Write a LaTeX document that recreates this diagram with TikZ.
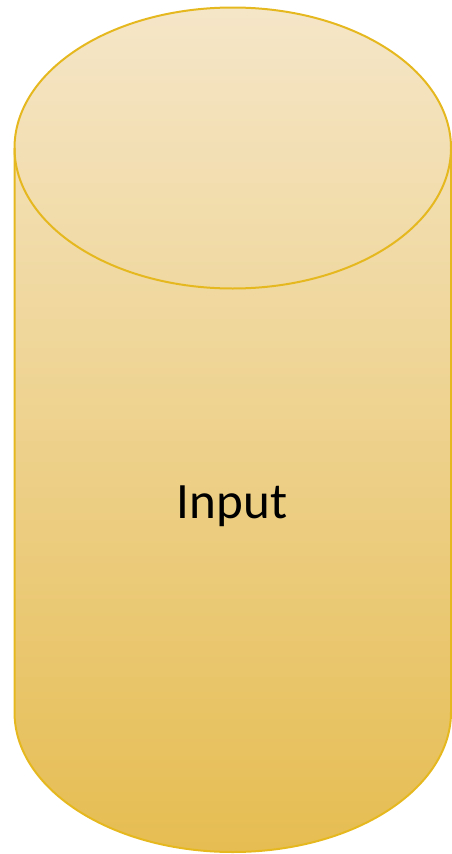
\documentclass[tikz,border=0pt]{standalone}
\usepackage{fontspec}
\setmainfont{Carlito}
\usetikzlibrary{calc}
\tikzset{
	align=center,
	drum/.style={
		draw=drumline,
		line width=2pt,
		top color=drumtop,
		bottom color=drumbottom,
	},
	drumrim/.style={
		draw=drumline,
		line width=2pt,
	},
	label/.style={
		font=\fontsize{51}{60}\selectfont,
		text=black,
		inner sep=0pt,
	},
}
\definecolor{drumline}{HTML}{E6B820}
\definecolor{drumtop}{HTML}{F5E6C8}
\definecolor{drumbottom}{HTML}{E6BD52}

\begin{document}
\begin{tikzpicture}[x=1pt,y=1pt]
		\useasboundingbox (0,0) rectangle (452,-854);

		% body of the cylinder, shaded top to bottom
		\path[drum] (14.5,-148) -- (14.5,-712)
			arc[start angle=180,end angle=360,x radius=218.25,y radius=140]
			-- (451,-148)
			arc[start angle=0,end angle=180,x radius=218.25,y radius=140.5] -- cycle;
		% front rim of the lid
		\draw[drumrim] (14.5,-148)
			arc[start angle=180,end angle=360,x radius=218.25,y radius=140.5];

		\node[label,anchor=base] (input) at (232,-518) {Input};
	\end{tikzpicture}
\end{document}
